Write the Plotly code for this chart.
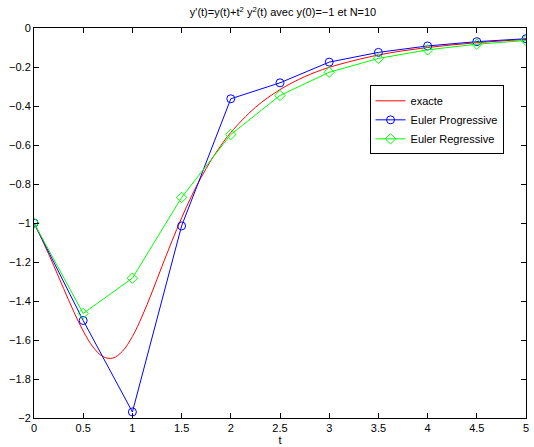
import plotly.graph_objects as go

# exact solution
t_exact = [0, 0.1, 0.2, 0.3, 0.4, 0.5, 0.6, 0.7, 0.8, 0.9, 1.0, 1.1, 1.2, 1.3, 1.4,
           1.5, 1.6, 1.7, 1.8, 1.9, 2.0, 2.25, 2.5, 2.75, 3.0, 3.5, 4.0, 4.5, 5.0]
y_exact = [-1.0, -1.105, -1.218, -1.335, -1.450, -1.554, -1.636, -1.685, -1.693, -1.657,
           -1.582, -1.477, -1.354, -1.223, -1.095, -0.974, -0.863, -0.765, -0.678, -0.602,
           -0.536, -0.407, -0.316, -0.250, -0.202, -0.1385, -0.1002, -0.0755, -0.0588]

t_nodes = [0, 0.5, 1, 1.5, 2, 2.5, 3, 3.5, 4, 4.5, 5]
y_prog = [-1.0, -1.5, -1.969, -1.015, -0.363, -0.281, -0.175, -0.125, -0.092, -0.070, -0.055]
y_regr = [-1.0, -1.464, -1.283, -0.869, -0.546, -0.346, -0.227, -0.156, -0.112, -0.083, -0.064]

x_ticks = [0, 0.5, 1, 1.5, 2, 2.5, 3, 3.5, 4, 4.5, 5]
x_tick_labels = ["0", "0.5", "1", "1.5", "2", "2.5", "3", "3.5", "4", "4.5", "5"]
y_ticks = [0, -0.2, -0.4, -0.6, -0.8, -1, -1.2, -1.4, -1.6, -1.8, -2]
y_tick_labels = ["0", "\u22120.2", "\u22120.4", "\u22120.6", "\u22120.8", "\u22121",
                 "\u22121.2", "\u22121.4", "\u22121.6", "\u22121.8", "\u22122"]

fig = go.Figure()
fig.add_trace(go.Scatter(x=t_exact, y=y_exact, mode="lines", name="exacte",
                         line=dict(color="rgb(255,0,0)", width=1, shape="spline")))
fig.add_trace(go.Scatter(x=t_nodes, y=y_prog, mode="lines+markers", name="Euler Progressive",
                         line=dict(color="rgb(0,0,255)", width=1),
                         marker=dict(symbol="circle-open", size=8, color="rgb(0,0,255)",
                                     line=dict(width=1))))
fig.add_trace(go.Scatter(x=t_nodes, y=y_regr, mode="lines+markers", name="Euler Regressive",
                         line=dict(color="rgb(0,255,0)", width=1),
                         marker=dict(symbol="diamond-open", size=8, color="rgb(0,255,0)",
                                     line=dict(width=1))))

axis_common = dict(showgrid=False, zeroline=False, showline=True, linecolor="black",
                   linewidth=1, mirror="ticks", ticks="inside", ticklen=5,
                   tickcolor="black", tickfont=dict(size=11, color="black"))

fig.update_layout(
    width=534, height=447,
    margin=dict(l=34, r=5, t=28, b=28),
    paper_bgcolor="white", plot_bgcolor="white",
    font=dict(family="Liberation Sans, Arial, sans-serif", size=11, color="black"),
    title=dict(text="y'(t)=y(t)+t<sup>2</sup> y<sup>2</sup>(t) avec y(0)=\u22121 et N=10",
               x=0.53, xanchor="center", y=0.972, yanchor="middle",
               font=dict(size=11)),
    xaxis=dict(range=[0, 5], tickvals=x_ticks, ticktext=x_tick_labels,
               title=dict(text="t", standoff=0, font=dict(size=11)), **axis_common),
    yaxis=dict(range=[-2, 0], tickvals=y_ticks, ticktext=y_tick_labels, **axis_common),
    legend=dict(x=0.682, y=0.853, xanchor="left", yanchor="top",
                bgcolor="white", bordercolor="black", borderwidth=1,
                font=dict(size=11), tracegroupgap=0),
    showlegend=True,
)

fig.write_html("out.html", config={"displayModeBar": False},
               post_script="document.body.style.margin='0';document.body.style.overflow='hidden';")
